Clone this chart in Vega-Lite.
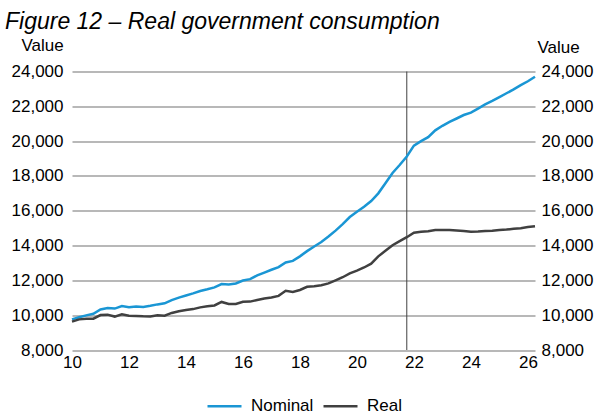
{
  "$schema": "https://vega.github.io/schema/vega-lite/v6.json",
  "autosize": "none",
  "width": 463,
  "height": 278.5,
  "padding": {"left": 72, "top": 71.5, "right": 61, "bottom": 64},
  "background": "white",
  "config": {
    "font": "Liberation Sans",
    "view": {"stroke": null},
    "axis": {"labelFont": "Liberation Sans", "titleFont": "Liberation Sans", "labelColor": "#000000", "titleColor": "#000000"}
  },
  "title": {
    "text": "Figure 12 – Real government consumption",
    "anchor": "start",
    "frame": "group",
    "font": "Liberation Sans",
    "fontSize": 23,
    "fontStyle": "italic",
    "fontWeight": "normal",
    "color": "#000000",
    "dx": -67,
    "dy": 2
  },
  "datasets": {
    "consumption": [
      {"t": 10.00, "Nominal": 9760, "Real": 9630},
      {"t": 10.25, "Nominal": 9880, "Real": 9760},
      {"t": 10.50, "Nominal": 9990, "Real": 9790},
      {"t": 10.75, "Nominal": 10080, "Real": 9800},
      {"t": 11.00, "Nominal": 10330, "Real": 10010},
      {"t": 11.25, "Nominal": 10410, "Real": 10030},
      {"t": 11.50, "Nominal": 10380, "Real": 9920},
      {"t": 11.75, "Nominal": 10530, "Real": 10050},
      {"t": 12.00, "Nominal": 10460, "Real": 9970},
      {"t": 12.25, "Nominal": 10500, "Real": 9960},
      {"t": 12.50, "Nominal": 10470, "Real": 9940},
      {"t": 12.75, "Nominal": 10540, "Real": 9930},
      {"t": 13.00, "Nominal": 10620, "Real": 9990},
      {"t": 13.25, "Nominal": 10680, "Real": 9970},
      {"t": 13.50, "Nominal": 10870, "Real": 10130},
      {"t": 13.75, "Nominal": 11010, "Real": 10230},
      {"t": 14.00, "Nominal": 11130, "Real": 10300},
      {"t": 14.25, "Nominal": 11250, "Real": 10350},
      {"t": 14.50, "Nominal": 11390, "Real": 10450},
      {"t": 14.75, "Nominal": 11490, "Real": 10510},
      {"t": 15.00, "Nominal": 11600, "Real": 10560},
      {"t": 15.25, "Nominal": 11790, "Real": 10760},
      {"t": 15.50, "Nominal": 11770, "Real": 10640},
      {"t": 15.75, "Nominal": 11820, "Real": 10640},
      {"t": 16.00, "Nominal": 11990, "Real": 10770},
      {"t": 16.25, "Nominal": 12070, "Real": 10780},
      {"t": 16.50, "Nominal": 12290, "Real": 10870},
      {"t": 16.75, "Nominal": 12450, "Real": 10960},
      {"t": 17.00, "Nominal": 12610, "Real": 11020},
      {"t": 17.25, "Nominal": 12760, "Real": 11110},
      {"t": 17.50, "Nominal": 13030, "Real": 11400},
      {"t": 17.75, "Nominal": 13120, "Real": 11340},
      {"t": 18.00, "Nominal": 13380, "Real": 11450},
      {"t": 18.25, "Nominal": 13680, "Real": 11630},
      {"t": 18.50, "Nominal": 13950, "Real": 11660},
      {"t": 18.75, "Nominal": 14200, "Real": 11720},
      {"t": 19.00, "Nominal": 14520, "Real": 11830},
      {"t": 19.25, "Nominal": 14860, "Real": 12000},
      {"t": 19.50, "Nominal": 15230, "Real": 12180},
      {"t": 19.75, "Nominal": 15640, "Real": 12400},
      {"t": 20.00, "Nominal": 15940, "Real": 12560},
      {"t": 20.25, "Nominal": 16230, "Real": 12740},
      {"t": 20.50, "Nominal": 16560, "Real": 12960},
      {"t": 20.75, "Nominal": 17000, "Real": 13380},
      {"t": 21.00, "Nominal": 17580, "Real": 13700},
      {"t": 21.25, "Nominal": 18170, "Real": 14020},
      {"t": 21.50, "Nominal": 18630, "Real": 14250},
      {"t": 21.75, "Nominal": 19120, "Real": 14480},
      {"t": 22.00, "Nominal": 19740, "Real": 14740},
      {"t": 22.25, "Nominal": 20000, "Real": 14790},
      {"t": 22.50, "Nominal": 20230, "Real": 14820},
      {"t": 22.75, "Nominal": 20620, "Real": 14890},
      {"t": 23.00, "Nominal": 20880, "Real": 14890},
      {"t": 23.25, "Nominal": 21110, "Real": 14890},
      {"t": 23.50, "Nominal": 21300, "Real": 14860},
      {"t": 23.75, "Nominal": 21500, "Real": 14830},
      {"t": 24.00, "Nominal": 21640, "Real": 14800},
      {"t": 24.25, "Nominal": 21870, "Real": 14810},
      {"t": 24.50, "Nominal": 22110, "Real": 14830},
      {"t": 24.75, "Nominal": 22310, "Real": 14850},
      {"t": 25.00, "Nominal": 22530, "Real": 14890},
      {"t": 25.25, "Nominal": 22750, "Real": 14920},
      {"t": 25.50, "Nominal": 22970, "Real": 14960},
      {"t": 25.75, "Nominal": 23220, "Real": 15000},
      {"t": 26.00, "Nominal": 23440, "Real": 15060},
      {"t": 26.25, "Nominal": 23700, "Real": 15110}
    ],
    "forecastStart": [{"t": 21.75}]
  },
  "layer": [
    {
      "data": {"name": "consumption"},
      "transform": [{"fold": ["Nominal", "Real"], "as": ["series", "value"]}],
      "mark": {"type": "line", "opacity": 0},
      "encoding": {
        "x": {"field": "t", "type": "quantitative", "scale": {"domain": [10, 26.25], "nice": false, "zero": false}},
        "y": {
          "field": "value", "type": "quantitative",
          "scale": {"domain": [8000, 24000], "nice": false, "zero": false},
          "axis": {
            "orient": "right", "title": "Value", "values": [8000, 10000, 12000, 14000, 16000, 18000, 20000, 22000, 24000],
            "format": ",d", "grid": false, "domain": false, "ticks": false, "labelPadding": 6, "labelFontSize": 17,
            "titleAngle": 0, "titleFontSize": 17, "titleFontWeight": "normal", "titleAlign": "center", "titleBaseline": "alphabetic",
            "titleX": 23, "titleY": -19.5
          }
        },
        "detail": {"field": "series"}
      }
    },
    {
      "data": {"name": "forecastStart"},
      "mark": {"type": "rule", "color": "#404040", "strokeWidth": 1},
      "encoding": {
        "x": {"field": "t", "type": "quantitative"}
      }
    },
    {
      "data": {"name": "consumption"},
      "transform": [{"fold": ["Nominal", "Real"], "as": ["series", "value"]}],
      "mark": {"type": "line", "strokeWidth": 2.5},
      "encoding": {
        "x": {
          "field": "t", "type": "quantitative",
          "axis": {
            "title": null, "values": [10, 12, 14, 16, 18, 20, 22, 24, 26], "format": "d",
            "grid": false, "domain": false, "ticks": false, "labelPadding": 4, "labelFontSize": 17,
            "labelFlush": false, "labelBound": false, "labelOverlap": false
          }
        },
        "y": {
          "field": "value", "type": "quantitative",
          "scale": {"domain": [8000, 24000], "nice": false, "zero": false},
          "axis": {
            "orient": "left", "title": "Value", "values": [8000, 10000, 12000, 14000, 16000, 18000, 20000, 22000, 24000],
            "format": ",d", "grid": true, "gridColor": "#a0a0a0", "gridWidth": 1.3, "domain": false, "ticks": false,
            "labelPadding": 9, "labelFontSize": 17,
            "titleAngle": 0, "titleFontSize": 17, "titleFontWeight": "normal", "titleAlign": "center", "titleBaseline": "alphabetic",
            "titleX": -30, "titleY": -21.5
          }
        },
        "color": {
          "field": "series", "type": "nominal",
          "scale": {"domain": ["Nominal", "Real"], "range": ["#1a96d4", "#404040"]},
          "legend": {
            "title": null, "orient": "none", "legendX": 134, "legendY": 316, "direction": "horizontal",
            "symbolType": "stroke", "symbolSize": 1156, "symbolStrokeWidth": 2.5,
            "labelFontSize": 17, "labelColor": "#000000", "labelOffset": 8, "columnPadding": 4, "padding": 0
          }
        }
      }
    }
  ],
  "resolve": {"scale": {"y": "independent"}}
}
